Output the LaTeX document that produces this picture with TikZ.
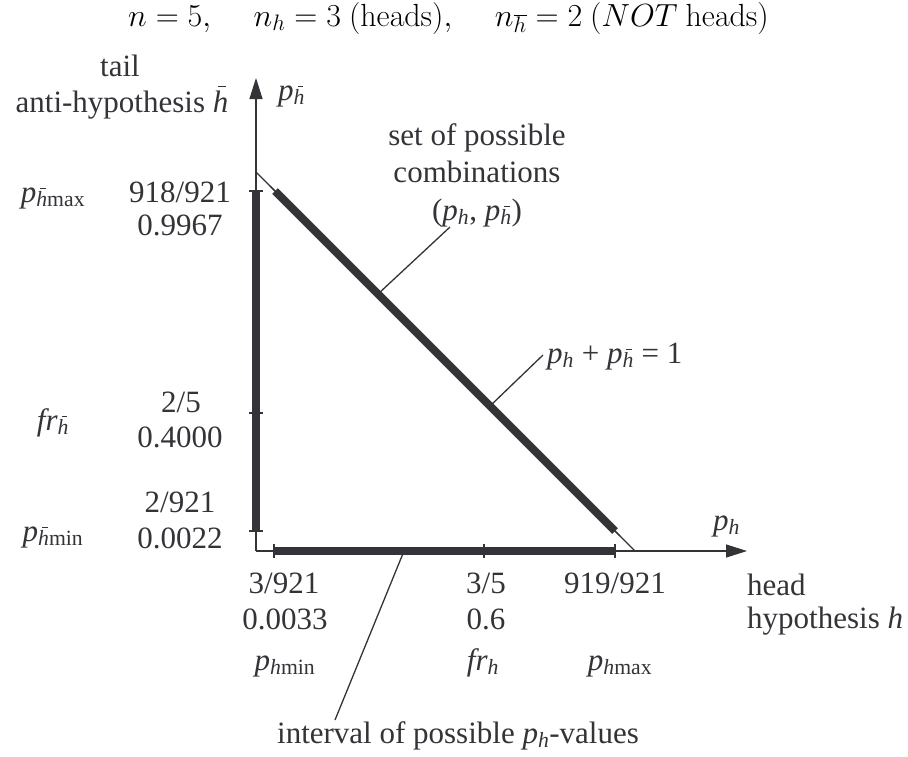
\RequirePackage{fix-cm}
\documentclass[tikz,border=0pt]{standalone}
\usepackage[no-math]{fontspec}
\setmainfont{Liberation Serif}
\usetikzlibrary{arrows.meta}
\definecolor{ink}{RGB}{51,51,56}
\newcommand{\hbr}{{\ooalign{\textit{h}\cr\hidewidth\hspace{0.12em}\raisebox{0.8em}{\rule{0.26em}{0.05em}}\hidewidth\cr}}}
\newcommand{\ph}{\textit{p}\textsubscript{\textit{h}}}
\newcommand{\phb}{\textit{p}\textsubscript{\hbr}}
\tikzset{
  lbl/.style={text=ink,inner sep=0pt,anchor=base,font=\fontsize{31}{34}\selectfont},
  thin/.style={draw=ink,line width=1.3pt},
  bar/.style={draw=ink,line width=8pt},
  tick/.style={draw=ink,line width=1.3pt},
  axis/.style={draw=ink,line width=1.3pt,-{Triangle[length=21pt,width=13pt]}},
}
\begin{document}
\begin{tikzpicture}[x=1pt,y=-1pt]
\useasboundingbox (0,0) rectangle (908,756);
% title
\node[inner sep=0pt,anchor=base west,font=\fontsize{32}{36}\selectfont] (title) at (128,26)
  {$n=5,\quad\,n_h=3\ (\mathrm{heads}),\quad\,n_{\overline{h}}=2\ (NOT\ \mathrm{heads})$};
% axes
\coordinate (O) at (256,551);
\coordinate (Ytip) at (256,78);
\coordinate (Xtip) at (747,551);
\draw[axis] (O) -- (Ytip);
\draw[axis] (O) -- (Xtip);
% thin diagonal
\coordinate (D1) at (256,172);
\coordinate (D2) at (635,551);
\draw[thin] (D1) -- (D2);
% thick bars
\coordinate (Dt) at (275,191);
\coordinate (Db) at (615,531);
\draw[bar] (Dt) -- (Db);
\coordinate (Vt) at (256,191);
\coordinate (Vm) at (256,413);
\coordinate (Vb) at (256,531);
\draw[bar] (Vt) -- (Vb);
\coordinate (Hl) at (274,551);
\coordinate (Hm) at (484,551);
\coordinate (Hr) at (615,551);
\draw[bar] (Hl) -- (Hr);
% ticks
\foreach \c in {Vt,Vm,Vb} \draw[tick] ([xshift=-7pt]\c) -- ([xshift=7pt]\c);
\foreach \c in {Hl,Hm,Hr} \draw[tick] ([yshift=-7pt]\c) -- ([yshift=7pt]\c);
\foreach \c in {Dt,Db} \draw[tick] ([shift={(-5,-5)}]\c) -- ([shift={(5,5)}]\c);
% axis labels
\node[lbl] (tail) at (120,76) {tail};
\node[lbl] (anti) at (122,112) {anti-hypothesis \hbr};
\node[lbl,anchor=base west] (pyax) at (278,100) {\phb};
\node[lbl,anchor=base west] (pxax) at (713,530) {\ph};
\node[lbl,anchor=base west] (head) at (747,595) {head};
\node[lbl,anchor=base west] (hyp) at (747,628) {hypothesis \textit{h}};
% left labels
\node[lbl] (pbmax) at (53,202) {\textit{p}\textsubscript{\hbr max}};
\node[lbl] (v1a) at (180,202) {918/921};
\node[lbl] (v1b) at (180,235) {0.9967};
\node[lbl] (frb) at (53,430) {\textit{fr}\textsubscript{\hbr}};
\node[lbl] (v2a) at (181,412) {2/5};
\node[lbl] (v2b) at (180,447) {0.4000};
\node[lbl] (pbmin) at (53,541) {\textit{p}\textsubscript{\hbr min}};
\node[lbl] (v3a) at (180,512) {2/921};
\node[lbl] (v3b) at (180,548) {0.0022};
% bottom labels
\node[lbl] (h1a) at (284,593) {3/921};
\node[lbl] (h1b) at (285,629) {0.0033};
\node[lbl] (phmin) at (285,670) {\textit{p}\textsubscript{\textit{h}min}};
\node[lbl] (h2a) at (486,593) {3/5};
\node[lbl] (h2b) at (486,629) {0.6};
\node[lbl] (frh) at (483,670) {\textit{fr}\textsubscript{\textit{h}}};
\node[lbl] (h3a) at (615,593) {919/921};
\node[lbl] (phmax) at (620,670) {\textit{p}\textsubscript{\textit{h}max}};
% annotations
\node[lbl] (set1) at (477,145) {set of possible};
\node[lbl] (set2) at (477,182) {combinations};
\node[lbl] (set3) at (477,220) {(\ph, \phb)};
\node[lbl,anchor=base west] (sum) at (547,363) {\ph\ + \phb\ = 1};
\node[lbl] (intv) at (458,743) {interval of possible \ph-values};
\coordinate (L1a) at (378,294);
\coordinate (L1b) at (450,227);
\draw[thin] (L1a) -- (L1b);
\coordinate (L2a) at (490,406);
\coordinate (L2b) at (543,355);
\draw[thin] (L2a) -- (L2b);
\coordinate (L3a) at (404,551);
\coordinate (L3b) at (335,720);
\draw[thin] (L3a) -- (L3b);
\end{tikzpicture}
\end{document}
